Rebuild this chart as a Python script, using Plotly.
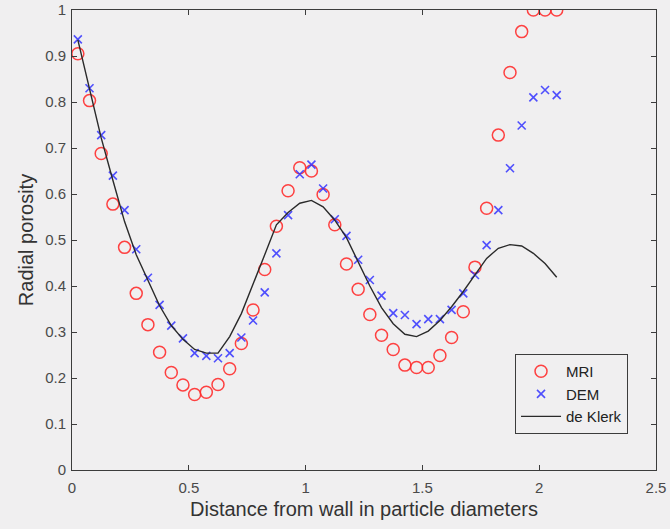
import plotly.graph_objects as go

x_pos = [round(0.025 + 0.05 * i, 3) for i in range(42)]

mri = [0.905, 0.803, 0.688, 0.578, 0.484, 0.384, 0.316, 0.256, 0.212, 0.185,
       0.164, 0.169, 0.186, 0.220, 0.275, 0.348, 0.436, 0.530, 0.607, 0.657,
       0.650, 0.599, 0.533, 0.448, 0.393, 0.338, 0.293, 0.262, 0.228, 0.223,
       0.223, 0.249, 0.288, 0.344, 0.441, 0.569, 0.728, 0.864, 0.953, 1.0,
       1.0, 1.0]

dem = [0.936, 0.830, 0.728, 0.640, 0.565, 0.480, 0.418, 0.359, 0.314, 0.286,
       0.254, 0.248, 0.243, 0.254, 0.288, 0.325, 0.386, 0.471, 0.554, 0.643,
       0.664, 0.612, 0.545, 0.509, 0.457, 0.413, 0.379, 0.341, 0.337, 0.317,
       0.328, 0.328, 0.348, 0.384, 0.424, 0.489, 0.565, 0.656, 0.749, 0.810,
       0.826, 0.815]

de_klerk = [0.935, 0.826, 0.722, 0.630, 0.540, 0.468, 0.412, 0.357, 0.314, 0.284,
            0.262, 0.254, 0.254, 0.290, 0.340, 0.402, 0.468, 0.533, 0.560, 0.580,
            0.586, 0.572, 0.543, 0.505, 0.452, 0.400, 0.353, 0.318, 0.295, 0.290,
            0.302, 0.325, 0.355, 0.388, 0.424, 0.460, 0.482, 0.490, 0.487, 0.471,
            0.449, 0.419]

x_ticks = [0, 0.5, 1, 1.5, 2, 2.5]
x_labels = ["0", "0.5", "1", "1.5", "2", "2.5"]
y_ticks = [0, 0.1, 0.2, 0.3, 0.4, 0.5, 0.6, 0.7, 0.8, 0.9, 1]
y_labels = ["0", "0.1", "0.2", "0.3", "0.4", "0.5", "0.6", "0.7", "0.8", "0.9", "1"]

bg = "#f0eff0"
axis_col = "#3c3c3c"
font_col = "#4a4a4a"
ff = "Liberation Sans, Arial, sans-serif"

fig = go.Figure()
fig.add_trace(go.Scatter(
    x=x_pos, y=mri, mode="markers", name="MRI",
    marker=dict(symbol="circle-open", size=12, color="rgba(255,45,45,0.9)",
                line=dict(width=1.5, color="rgba(255,45,45,0.9)")),
))
fig.add_trace(go.Scatter(
    x=x_pos, y=dem, mode="markers", name="DEM",
    marker=dict(symbol="x-thin-open", size=8, color="rgba(50,50,255,0.85)",
                line=dict(width=1.6, color="rgba(50,50,255,0.85)")),
))
fig.add_trace(go.Scatter(
    x=x_pos, y=de_klerk, mode="lines", name="de Klerk",
    line=dict(color="#2a2a2a", width=1.4),
))

axis_common = dict(
    showgrid=False, zeroline=False, showline=True, linecolor=axis_col, linewidth=1,
    mirror="ticks", ticks="inside", ticklen=5, tickcolor=axis_col, tickwidth=1,
    tickfont=dict(family=ff, size=15, color=font_col), automargin=False,
)

fig.update_layout(
    width=670, height=529,
    paper_bgcolor=bg, plot_bgcolor=bg,
    margin=dict(l=72, r=14, t=10, b=59),
    font=dict(family=ff, color=font_col),
    xaxis=dict(range=[0, 2.5], tickvals=x_ticks, ticktext=x_labels,
               ticklabelstandoff=4,
               title=dict(text="Distance from wall in particle diameters",
                          font=dict(family=ff, size=20, color="#333333"), standoff=6),
               **axis_common),
    yaxis=dict(range=[0, 1], tickvals=y_ticks, ticktext=y_labels,
               ticklabelstandoff=2,
               title=dict(text="Radial porosity",
                          font=dict(family=ff, size=20, color="#333333"), standoff=6),
               **axis_common),
    legend=dict(x=0.7586, y=0.252, xanchor="left", yanchor="top",
                bgcolor=bg, bordercolor=axis_col, borderwidth=1,
                font=dict(family=ff, size=15, color="#222222"),
                tracegroupgap=0, itemwidth=40),
    showlegend=True,
)

fig.write_html("out.html",
               config={"displayModeBar": False},
               post_script="document.body.style.margin='0';"
                           "document.body.style.background='#f0eff0';")
